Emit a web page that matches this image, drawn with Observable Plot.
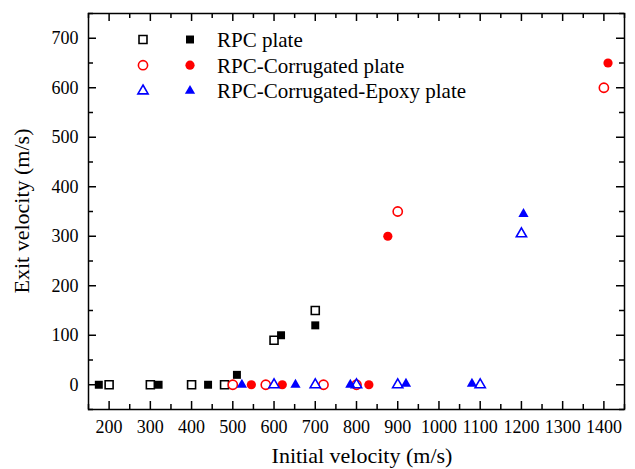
<!DOCTYPE html>
<html>
<head>
<meta charset="utf-8">
<script src="https://cdn.jsdelivr.net/npm/d3@7"></script>
<script src="https://cdn.jsdelivr.net/npm/@observablehq/plot@0.6"></script>
<style>
  body { margin: 0; background: white; }
</style>
</head>
<body>
<div id="chart"></div>
<script>
// ---- data ----
const rpcOpenX  = [200, 300, 400, 480, 600, 700];
const rpcOpenY  = [0, 0, 0, 0, 90, 150];
const rpcFillX  = [175, 320, 440, 510, 617, 700];
const rpcFillY  = [0, 0, 0, 20, 100, 120];

const corOpenX  = [500, 580, 720, 800, 900, 1400];
const corOpenY  = [0, 0, 0, 0, 350, 600];
const corFillX  = [545, 620, 830, 876, 1410];
const corFillY  = [0, 0, 0, 300, 650];

const epoOpenX  = [600, 700, 800, 900, 1100, 1200];
const epoOpenY  = [0, 0, 0, 0, 0, 305];
const epoFillX  = [522, 652, 785, 920, 1080, 1205];
const epoFillY  = [0, 0, 0, 2, 2, 345];

const seriesNames = ["RPC plate", "RPC-Corrugated plate", "RPC-Corrugated-Epoxy plate"];
const seriesColors = ["#000000", "#ff0000", "#0000ff"];
const seriesSymbols = ["square", "circle", "triangle"];

const xMajor = d3.range(200, 1401, 100);
const xMinor = d3.range(150, 1451, 100);
const yMajor = d3.range(0, 701, 100);
const yMinor = d3.range(-50, 751, 100);

const xTitle = "Initial velocity (m/s)";
const yTitle = "Exit velocity (m/s)";

// ---- layout ----
const FONT = "Liberation Serif";
const W = 635, H = 469;
const mL = 88, mR = 11, mT = 13, mB = 60;
const iw = W - mL - mR, ih = H - mT - mB;
const majorLen = 8, minorLen = 5;

const zip = (xs, ys) => xs.map((x, i) => ({x, y: ys[i]}));
const sizes = {square: 4.5, circle: 4.6, triangle: 3.8};

function dots(data, k, filled) {
  const sym = seriesSymbols[k];
  return Plot.dot(data, {
    x: "x", y: "y", symbol: sym, r: sizes[sym],
    fill: filled ? seriesColors[k] : "white",
    stroke: filled ? "none" : seriesColors[k],
    strokeWidth: filled ? 0 : 1.6
  });
}

const tickStyle = {stroke: "black", strokeWidth: 1.5};

const svg = Plot.plot({
  width: W, height: H,
  marginLeft: mL, marginRight: mR, marginTop: mT, marginBottom: mB,
  x: {domain: [150, 1450]},
  y: {domain: [-50, 750]},
  style: {fontSize: "18px", background: "white", color: "black"},
  marks: [
    Plot.tickX(xMajor, {x: d => d, insetTop: ih - majorLen, ...tickStyle}),
    Plot.tickX(xMajor, {x: d => d, insetBottom: ih - majorLen, ...tickStyle}),
    Plot.tickX(xMinor, {x: d => d, insetTop: ih - minorLen, ...tickStyle}),
    Plot.tickX(xMinor, {x: d => d, insetBottom: ih - minorLen, ...tickStyle}),
    Plot.tickY(yMajor, {y: d => d, insetRight: iw - majorLen, ...tickStyle}),
    Plot.tickY(yMajor, {y: d => d, insetLeft: iw - majorLen, ...tickStyle}),
    Plot.tickY(yMinor, {y: d => d, insetRight: iw - minorLen, ...tickStyle}),
    Plot.tickY(yMinor, {y: d => d, insetLeft: iw - minorLen, ...tickStyle}),
    Plot.axisX(xMajor, {tickSize: 0, tickPadding: 11, fontSize: 18, label: null, fill: "black", tickFormat: d3.format("d")}),
    Plot.axisY(yMajor, {tickSize: 0, tickPadding: 10, fontSize: 18, label: null, fill: "black", tickFormat: d3.format("d")}),
    dots(zip(rpcOpenX, rpcOpenY), 0, false),
    dots(zip(rpcFillX, rpcFillY), 0, true),
    dots(zip(corOpenX, corOpenY), 1, false),
    dots(zip(corFillX, corFillY), 1, true),
    dots(zip(epoOpenX, epoOpenY), 2, false),
    dots(zip(epoFillX, epoFillY), 2, true),
    Plot.frame({stroke: "black", strokeWidth: 1.5})
  ]
});

const s = d3.select(svg);
// axis titles
s.append("text")
  .attr("x", mL + iw / 2 + 6).attr("y", 463)
  .attr("text-anchor", "middle")
  .attr("font-size", 22).attr("fill", "black")
  .text(xTitle);
s.append("text")
  .attr("transform", `translate(29, ${mT + ih / 2}) rotate(-90)`)
  .attr("text-anchor", "middle")
  .attr("font-size", 22).attr("fill", "black")
  .text(yTitle);

// legend
const symMap = {square: d3.symbolSquare, circle: d3.symbolCircle, triangle: d3.symbolTriangle};
const lg = s.append("g");
seriesNames.forEach((name, k) => {
  const yy = 39.5 + k * 25.7;
  const sym = seriesSymbols[k];
  const path = d3.symbol(symMap[sym], Math.PI * sizes[sym] * sizes[sym])();
  lg.append("path").attr("d", path)
    .attr("transform", `translate(143, ${yy})`)
    .attr("fill", "white").attr("stroke", seriesColors[k]).attr("stroke-width", 1.6);
  lg.append("path").attr("d", path)
    .attr("transform", `translate(190, ${yy})`)
    .attr("fill", seriesColors[k]);
  lg.append("text")
    .attr("x", 217).attr("y", yy).attr("dy", "0.35em")
    .attr("text-anchor", "start")
    .attr("font-size", 21).attr("fill", "black")
    .text(name);
});

// serif font on every text element
s.selectAll("text")
  .attr("font-family", FONT)
  .style("font-family", FONT)
  .style("font-variant", "normal");
s.attr("font-family", FONT);

document.getElementById("chart").appendChild(svg);
</script>
</body>
</html>
